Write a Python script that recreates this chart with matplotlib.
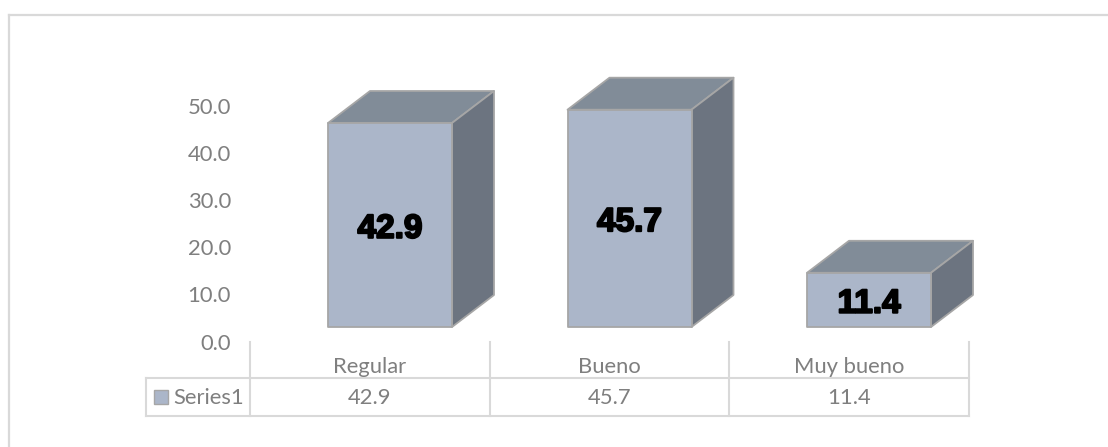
import matplotlib
matplotlib.use("Agg")
import matplotlib.pyplot as plt
import matplotlib.patheffects as pe
from matplotlib.lines import Line2D
from matplotlib.patches import Polygon, Rectangle

# Dane
categories = ["Regular", "Bueno", "Muy bueno"]
values = [42.9, 45.7, 11.4]
series_name = "Series1"
y_ticks = [0, 10, 20, 30, 40, 50]

W, H = 1108, 447
FRONT = "#abb6c9"
TOP = "#818c98"
SIDE = "#6c7480"
EDGE = "#a6a6a6"
GRID = "#d9d9d9"
TXT = "#7f7f7f"
FONT = ["Lato", "DejaVu Sans"]

fig = plt.figure(figsize=(W / 100, H / 100), dpi=100)


def px(x, y):
    # piksele od lewego gornego rogu -> wspolrzedne figury
    return x / W, 1 - y / H


def hline(x0, x1, y, lw=1.5):
    fig.add_artist(Line2D([x0 / W, x1 / W], [1 - y / H] * 2, color=GRID, lw=lw))


def vline(x, y0, y1, lw=1.5):
    fig.add_artist(Line2D([x / W] * 2, [1 - y0 / H, 1 - y1 / H], color=GRID, lw=lw))


# Ramka wykresu: tylko gora i lewa strona, dochodza do krawedzi obrazka
hline(9, W, 15, lw=1.6)
vline(9, 15, H, lw=1.6)

# Glowna os: x = numer kategorii, y = wartosc
step = 239.5
y_scale = 4.755
ax = fig.add_axes([0, 0, 1, 1])
ax.set_xlim(-390 / step, (W - 390) / step)
ax.set_ylim(-(H - 327) / y_scale, 327 / y_scale)
ax.axis("off")

bar_w = 124 / step
dx = 42 / step
dy = 32 / y_scale

for i, val in enumerate(values):
    l, r = i - bar_w / 2, i + bar_w / 2
    ax.add_patch(Polygon([(l, val), (r, val), (r + dx, val + dy), (l + dx, val + dy)],
                         facecolor=TOP, edgecolor=EDGE, lw=1.3, joinstyle="round"))
    ax.add_patch(Polygon([(r, 0), (r + dx, dy), (r + dx, val + dy), (r, val)],
                         facecolor=SIDE, edgecolor=EDGE, lw=1.3, joinstyle="round"))
    ax.add_patch(Polygon([(l, 0), (r, 0), (r, val), (l, val)],
                         facecolor=FRONT, edgecolor=EDGE, lw=1.3, joinstyle="round"))
    # etykieta troche ponizej srodka slupka
    ax.text(i, val / 2 - 0.9, f"{val:.1f}", ha="center", va="center", fontsize=24,
            fontweight="bold", family="Liberation Sans", color="black",
            path_effects=[pe.withStroke(linewidth=1.5, foreground="black")])

# Os wartosci (inna skala niz slupki, bo Excel rysuje ja z przodu)
for t in y_ticks:
    x, y = px(231, 343.5 - t * 4.72)
    fig.text(x, y, f"{t:.1f}", ha="right", va="center", family=FONT, fontsize=15.8, color=TXT)

# Tabela danych
col_x = [250, 490, 729, 969]
hline(146, 969, 378)
hline(146, 969, 416)
vline(146, 378, 416)
for x in col_x:
    vline(x, 342, 416)

for i, cat in enumerate(categories):
    cx = (col_x[i] + col_x[i + 1]) / 2
    x, y = px(cx, 367)
    fig.text(x, y, cat, ha="center", va="center", family=FONT, fontsize=15.8, color=TXT)
    x, y = px(cx, 398.5)
    fig.text(x, y, f"{values[i]:.1f}", ha="center", va="center", family=FONT, fontsize=15.8, color=TXT)

fig.add_artist(Rectangle((154 / W, 1 - 404 / H), 14 / W, 14 / H, facecolor=FRONT,
                         edgecolor=EDGE, lw=1, transform=fig.transFigure))
x, y = px(173, 398.5)
fig.text(x, y, series_name, ha="left", va="center", family=FONT, fontsize=15.8, color=TXT)

fig.savefig("out.png", dpi=100)
